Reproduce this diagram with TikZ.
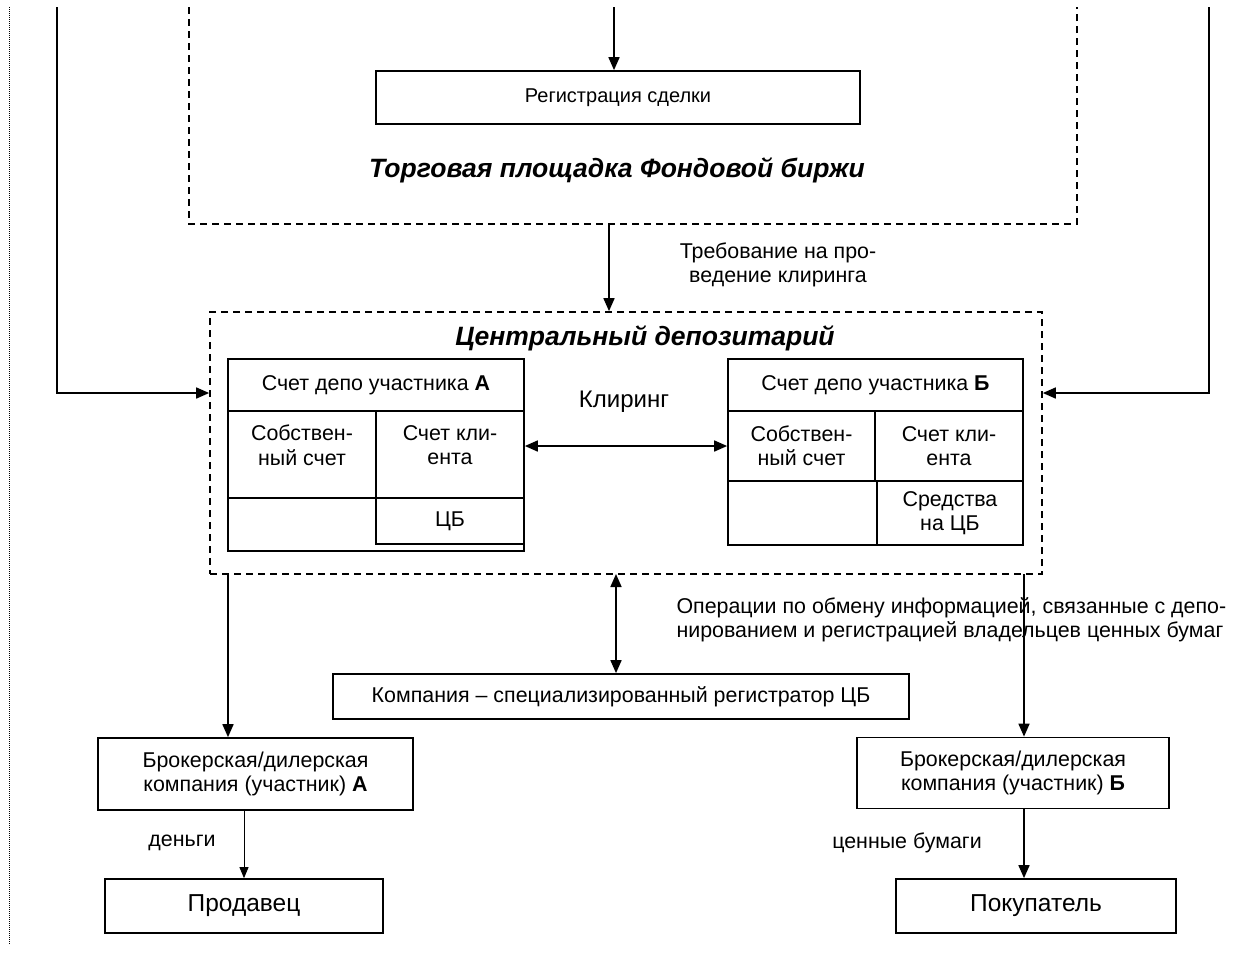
\documentclass[tikz,border=0pt]{standalone}
\usepackage{fontspec}
\setmainfont{Liberation Sans}
\usetikzlibrary{arrows.meta,positioning,calc}
\tikzstyle{arrow} = [-{Triangle[length=13pt,width=11pt]}, line width=1.7pt]
\tikzstyle{dblarrow} = [{Triangle[length=13pt,width=11pt]}-{Triangle[length=13pt,width=11pt]}, line width=1.7pt]
\tikzstyle{thinarrow} = [-{Triangle[length=11pt,width=9pt]}, line width=0.9pt]
\tikzstyle{box} = [rectangle, draw, line width=1.7pt, inner sep=0pt, align=center, font=\fontsize{21.4}{24.5}\selectfont]
\tikzstyle{bigbox} = [box, font=\fontsize{24.5}{28}\selectfont]
\tikzstyle{frame} = [draw, dash pattern=on 7pt off 5pt, line width=1.7pt]
\tikzstyle{caption} = [font=\fontsize{26.5}{30}\selectfont\bfseries\itshape]
\tikzstyle{note} = [align=center, font=\fontsize{21.4}{24.5}\selectfont]

\begin{document}
\begin{tikzpicture}[x=1pt, y=-1pt]
    \useasboundingbox (0,0) rectangle (1254,956);
    % page margin
    \draw[dash pattern=on 1pt off 1pt, line width=0.8pt] (9,7) -- (9,945);

    % Exchange
    \draw[frame] (189,7) |- (1077,224) -- (1077,7);
    \node[box, font=\fontsize{20}{24}\selectfont, minimum width=484pt, minimum height=53pt] (reg) at (618,97.5) {Регистрация сделки};
    \node[caption] (exch) at (617,170) {Торговая площадка Фондовой биржи};
    \coordinate (top) at (614,7);
    \coordinate (exbot) at (609,224);

    % Depository
    \node[frame, minimum width=832pt, minimum height=262pt] (depo) at (626,443) {};
    \node[caption] (depot) at (645,338) {Центральный депозитарий};

    % Account A
    \node[box, minimum width=296pt, minimum height=52pt] (hdrA) at (376,385) {Счет депо участника \textbf{А}};
    \node[box, minimum width=148pt, minimum height=87pt, text depth=19pt] (ownA) at (302,454.5) {Собствен-\\ный счет};
    \node[box, minimum width=148pt, minimum height=87pt, text depth=19pt] (cliA) at (450,454.5) {Счет кли-\\ента};
    \node[box, minimum width=296pt, minimum height=53pt] (nilA) at (376,524.5) {};
    \node[box, minimum width=148pt, minimum height=46pt] (cbA) at (450,521) {ЦБ};

    % Account B
    \node[box, minimum width=295pt, minimum height=52pt] (hdrB) at (875.5,385) {Счет депо участника \textbf{Б}};
    \node[box, minimum width=147pt, minimum height=70pt] (ownB) at (801.5,446) {Собствен-\\ный счет};
    \node[box, minimum width=148pt, minimum height=70pt] (cliB) at (949,446) {Счет кли-\\ента};
    \node[box, minimum width=149pt, minimum height=64pt] (nilB) at (802.5,513) {};
    \node[box, minimum width=146pt, minimum height=64pt] (cbB) at (950,513) {Средства\\на ЦБ};

    % Participants
    \node[box, minimum width=576pt, minimum height=45pt] (regr) at (621,696.5) {Компания -- специализированный регистратор ЦБ};
    \node[box, minimum width=315pt, minimum height=72pt] (brkA) at (255.5,774) {Брокерская/дилерская\\компания (участник) \textbf{А}};
    \node[box, minimum width=312pt, minimum height=71pt] (brkB) at (1013,773) {Брокерская/дилерская\\компания (участник) \textbf{Б}};
    \node[bigbox, minimum width=278pt, minimum height=54pt] (sel) at (244,906) {Продавец};
    \node[bigbox, minimum width=280pt, minimum height=54pt] (buy) at (1036,906) {Покупатель};

    % Labels
    \node[note] (lreq) at (778,265) {Требование на про-\\ведение клиринга};
    \node[note, font=\fontsize{24}{28}\selectfont] (lclr) at (624,402) {Клиринг};
    \node[note, align=left, anchor=west] (lops) at (673,620) {Операции по обмену информацией, связанные с депо-\\нированием и регистрацией владельцев ценных бумаг};
    \node[note] (lmon) at (182,843) {деньги};
    \node[note] (lsec) at (907,843) {ценные бумаги};

    % Arrows
    \coordinate (lt) at (57,7);
    \coordinate (rt) at (1209,7);
    \coordinate (dA) at (228,574);
    \coordinate (dB) at (1024,574);
    \coordinate (dR) at (616,574);
    \draw[arrow] (top) -- (top |- reg.north);
    \draw[arrow] (exbot) -- (exbot |- depo.north);
    \draw[arrow] (lt) |- ($(depo.west)+(0,-50)$);
    \draw[arrow] (rt) |- ($(depo.east)+(0,-50)$);
    \draw[dblarrow] (cliA.east |- ownB.west) -- (ownB.west);
    \draw[dblarrow] (dR) -- (dR |- regr.north);
    \draw[arrow] (dA) -- (dA |- brkA.north);
    \draw[arrow] (dB) -- (dB |- brkB.north);
    \draw[thinarrow] (sel.north |- brkA.south) -- (sel.north);
    \draw[arrow] (dB |- brkB.south) -- (dB |- buy.north);
\end{tikzpicture}
\end{document}
